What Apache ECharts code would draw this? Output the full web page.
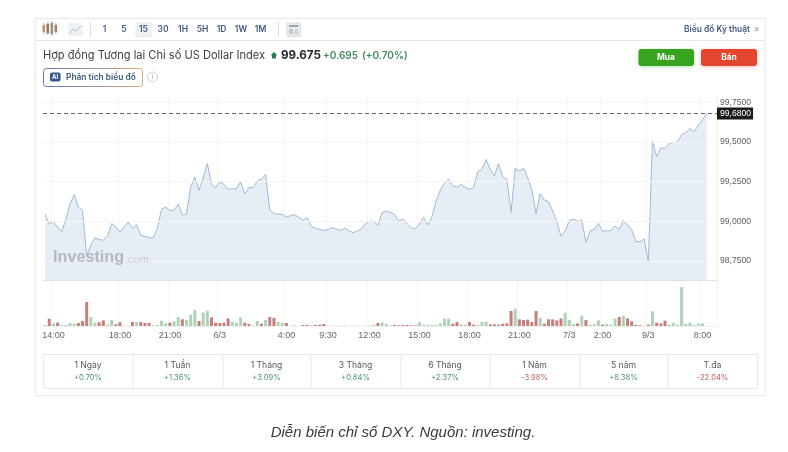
<!DOCTYPE html>
<html><head><meta charset="utf-8">
<script src="https://cdn.jsdelivr.net/npm/echarts@6/dist/echarts.min.js"></script>
<style>html,body{margin:0;padding:0;background:#fff}#c{width:788px;height:452px;filter:blur(.3px)}</style></head>
<body><div id="c"></div>
<script>
const prices=[99.044,98.983,99.000,98.962,98.935,99.012,99.109,99.168,99.090,99.067,98.781,98.851,98.897,98.884,98.882,98.907,98.985,98.966,98.931,98.964,98.996,98.954,98.979,98.912,98.905,98.897,98.895,98.956,99.077,99.090,99.067,99.069,99.109,99.040,99.046,99.218,99.279,99.195,99.273,99.365,99.233,99.212,99.250,99.233,99.201,99.205,99.205,99.250,99.172,99.214,99.212,99.254,99.268,99.294,99.075,
99.048,99.046,99.044,99.027,99.035,99.042,99.025,99.006,99.023,98.966,98.956,98.949,98.943,98.947,98.960,98.952,98.943,98.956,98.941,98.928,98.939,98.952,98.985,99.002,99.000,98.973,99.056,99.065,99.056,99.044,99.002,99.014,98.985,98.960,98.952,98.983,99.025,98.977,99.029,99.130,99.197,99.239,99.266,99.224,99.214,99.233,99.214,99.201,99.214,99.313,99.327,99.390,99.327,99.287,99.365,99.281,
99.264,99.056,99.334,99.317,99.334,99.277,99.197,99.050,99.174,99.134,99.124,99.065,98.998,98.907,98.939,99.004,99.014,99.000,99.006,98.868,98.941,98.949,98.987,98.937,98.941,98.941,98.970,98.949,99.006,98.977,98.947,98.872,98.872,98.889,98.746,99.506,99.407,99.464,99.459,99.489,99.497,99.501,99.546,99.560,99.585,99.564,99.606,99.638,99.680];
const volumes=[3,22,8,10,3,3,9,7,9,15,72,27,10,11,17,4,18,5,11,1,1,12,12,12,9,9,2,3,16,8,10,14,26,20,18,34,48,15,40,46,26,10,9,10,23,12,10,26,10,6,2,15,7,18,27,24,13,9,9,1,2,1,3,3,2,3,4,6,1,1,1,1,1,0,1,1,0,1,1,3,9,11,7,2,3,2,3,3,2,2,11,4,3,3,3,8,22,22,7,12,5,4,12,4,3,12,13,5,5,4,7,8,45,52,20,18,19,12,45,24,7,20,20,17,23,40,18,6,8,31,18,3,6,17,4,7,4,22,27,30,23,14,3,2,1,4,44,10,8,16,4,9,3,117,6,10,3,7,8,0];
const downBars=[1,3,8,9,10,13,14,17,18,21,23,24,25,30,33,37,40,41,42,43,44,48,49,52,54,55,58,62,63,65,66,67,80,84,85,86,87,88,89,98,99,102,103,107,108,109,110,111,112,114,115,116,117,118,120,121,122,123,124,128,130,134,138,140,141,142,143,145,147,148,149];
const tickIndex=[2,18,30,42,58,68,78,90,102,114,126,134,145,158];
const tickLabels=["14:00","18:00","21:00","6/3","4:00","9:30","12:00","15:00","18:00","21:00","7/3","2:00","9/3","8:00"];
const yTicks=[98.75,99,99.25,99.5,99.75];
const lastPrice=99.68;
const resolutions=["1","5","15","30","1H","5H","1D","1W","1M"];
const periods=["1 Ngày","1 Tuần","1 Tháng","3 Tháng","6 Tháng","1 Năm","5 năm","T.đa"];
const changes=["+0.70%","+1.36%","+3.09%","+0.84%","+2.37%","-3.98%","+8.38%","-22.04%"];

const SLOTS=162;
const categories=Array.from({length:SLOTS},(_,i)=>i);
const UI='Inter, "Liberation Sans", sans-serif', AR='"Liberation Sans", Arial, sans-serif';
const fmt=v=>v.toFixed(4).replace('.',',');
const isTick=i=>tickIndex.includes(+i);
const RED='#c67f7c',GREEN='#aed2b8';
const NAVY='#41597f';

const g=[];
const rect=(x,y,w,h,fill,extra={})=>g.push({type:'rect',shape:{x,y,width:w,height:h,r:extra.r||0},style:{fill,stroke:extra.stroke||null,lineWidth:extra.lw||1,shadowBlur:extra.sb||0,shadowColor:extra.sc||'transparent',shadowOffsetY:extra.so||0},z:extra.z||0,silent:true});
const text=(x,y,t,font,fill,align='left',z=5)=>g.push({type:'text',x,y,style:{text:t,font,fill,align,verticalAlign:'middle'},z,silent:true});
// card
rect(35.5,18.5,729.5,377,'#fff',{stroke:'#e8eaed',sb:4,sc:'rgba(0,0,0,0.05)'});
rect(36,40,729,1,'#e4e6e9');
// candle icon
[[43.5,25,7,'#b9987f'],[47.5,24,9,'#a96e5e'],[51.5,23,11,'#7fa07e'],[55.5,25,7,'#b07f6f']].forEach(([x,y,h,c])=>{rect(x-1,y,2.6,h,c,{z:2});rect(x,y-2,.8,h+4,c,{z:2});});
// line icon
rect(68,23,15,13,'#eef1f5',{z:1});
g.push({type:'polyline',shape:{points:[[70,33],[73,29],[76,31],[81,26]]},style:{stroke:'#a9bbd3',fill:null,lineWidth:1},z:2,silent:true});
rect(90,22,1,15,'#dcdfe3');rect(278,22,1,15,'#dcdfe3');
// resolution buttons
rect(136,23,15,13.5,'#eff2f6',{z:1,stroke:'#e4e8ee'});
const resX=[104.5,124,143.5,163,183,202.5,221.5,241,260.5];
resolutions.forEach((r,i)=>text(resX[i],29.7,r,'600 8.5px '+UI,NAVY,'center'));
// table icon
rect(287,23,13.5,13.5,'#e9ebee',{z:1,stroke:'#dcdfe3'});rect(289,25,9.5,2,'#9fa5ad',{z:2});rect(289,29,4,5,'#c4c8ce',{z:2});rect(294.5,29,4,5,'#d2d5da',{z:2});
text(750,29.5,'Biểu đồ Kỹ thuật','600 8.4px '+UI,NAVY,'right');
text(754,29.5,'»','9px '+UI,'#8fa0b8');
// title
text(43,55.3,'Hợp đồng Tương lai Chỉ số US Dollar Index','11.1px '+UI,'#3c3f44');
g.push({type:'polygon',shape:{points:[[274,52],[277.3,55.3],[276,55.3],[276,58.5],[272,58.5],[272,55.3],[270.7,55.3]]},style:{fill:'#2d7a4b'},z:5,silent:true});
text(281,55.3,'99.675','700 11.6px '+UI,'#26292e');
text(323,55.5,'+0.695','600 10px '+UI,'#3d8a5c');
text(362,55.5,'(+0.70%)','600 10px '+UI,'#3d8a5c');
// AI button
g.push({type:'rect',shape:{x:43.5,y:68.5,width:99,height:18,r:3},style:{fill:'#fff',lineWidth:1,stroke:{type:'linear',x:0,y:0,x2:1,y2:0,colorStops:[{offset:0,color:'#5d79ad'},{offset:1,color:'#e2a878'}]}},z:2,silent:true});
rect(50,72.5,10.5,9,'#35568f',{r:2,z:3});
text(55.2,77,'AI','700 6px '+UI,'#fff','center');
text(66,77.2,'Phân tích biểu đồ','600 8.4px '+UI,NAVY);
g.push({type:'circle',shape:{cx:152.5,cy:77,r:5},style:{fill:'#fff',stroke:'#c2c5c9',lineWidth:.8},z:2,silent:true});
text(152.5,77,'i','7px '+UI,'#a9adb2','center');
// buttons
rect(638.5,49,55.5,17,'#36a41f',{r:3,sb:4,sc:'rgba(54,164,31,.35)',so:1,z:2});
rect(701,49,56,17,'#e2462f',{r:3,sb:4,sc:'rgba(226,70,47,.35)',so:1,z:2});
text(666,57.3,'Mua','700 8.4px '+UI,'#fff','center');
text(729,57.3,'Bán','700 8.4px '+UI,'#fff','center');
// watermark
text(53,258,'Investing','700 16.2px '+AR,'#b4b8c1','left',6);
text(125,259.5,'.com','11px '+AR,'#c6cad0','left',6);
// performance table
rect(43.5,354.5,714,34,'#fff',{stroke:'#e6e8eb',z:1});
[132.5,222.5,310.5,400.5,489.5,579.5,667.5].forEach(x=>rect(x,355,1,33,'#e6e8eb',{z:1}));
const cx=[88,177.5,266.5,355.5,445,534.5,623.5,712.5];
periods.forEach((p,i)=>{
  text(cx[i],365.8,p,'8.6px '+UI,'#55585c','center');
  text(cx[i],377.8,changes[i],'7.6px '+UI,changes[i][0]==='+'?'#4b9468':'#c2615f','center');
});
// caption
text(403,432.5,'Diễn biến chỉ số DXY. Nguồn: investing.','italic 15px '+AR,'#3a3a3a','center');

const vLine={show:true,interval:i=>isTick(i),lineStyle:{color:'#f4f5f6',width:1}};
const chart=echarts.init(document.getElementById('c'),null,{renderer:'canvas'});
chart.setOption({
  animation:false,
  graphic:{elements:g},
  grid:[{left:43,width:674,top:96,height:184,containLabel:false},{left:43,width:674,top:281,height:45}],
  xAxis:[
   {type:'category',gridIndex:0,data:categories,boundaryGap:true,axisLabel:{show:false},axisTick:{show:false},
    axisLine:{show:true,lineStyle:{color:'#dfe1e4'}},splitLine:vLine},
   {type:'category',gridIndex:1,data:categories,boundaryGap:true,axisTick:{show:false},axisLine:{show:true,lineStyle:{color:'#f0f1f3'}},splitLine:vLine,
    axisLabel:{interval:i=>isTick(i),formatter:v=>tickLabels[tickIndex.indexOf(+v)]||'',color:'#666',fontSize:9,fontFamily:AR,margin:5,hideOverlap:false}}
  ],
  yAxis:[
   {type:'value',gridIndex:0,position:'right',min:98.63,max:99.79,splitLine:{show:false},axisTick:{show:false},
    axisLine:{show:true,lineStyle:{color:'#f0f1f3'}},
    axisLabel:{customValues:yTicks,formatter:fmt,color:'#5f5f5f',fontSize:8.6,fontFamily:AR,margin:3}},
   {type:'value',gridIndex:1,min:0,max:135,axisLabel:{show:false},axisTick:{show:false},splitLine:{show:false},axisLine:{show:false}}
  ],
  series:[
   {type:'line',xAxisIndex:0,yAxisIndex:0,data:prices,showSymbol:false,symbol:'none',smooth:false,z:3,
    lineStyle:{color:'#9fbad6',width:1},areaStyle:{color:'#e7edf5',opacity:1,origin:'start'},
    markLine:{silent:true,symbol:'none',animation:false,
      data:[...yTicks.map(v=>({yAxis:v,lineStyle:{color:'#f5f5f6',width:1,type:'solid'},label:{show:false}})),
        {yAxis:lastPrice,lineStyle:{color:'#666',width:1,type:[4,3]},
         label:{show:true,position:'end',formatter:()=>fmt(lastPrice),color:'#fff',backgroundColor:'#1c1c1c',padding:[2,2,1,3],fontSize:8.6,fontFamily:AR,distance:0}}]}},
   {type:'bar',xAxisIndex:1,yAxisIndex:1,barWidth:3,z:3,
    data:volumes.map((v,i)=>({value:v,itemStyle:{color:downBars.includes(i)?RED:GREEN}}))}
  ]
});
</script></body></html>
